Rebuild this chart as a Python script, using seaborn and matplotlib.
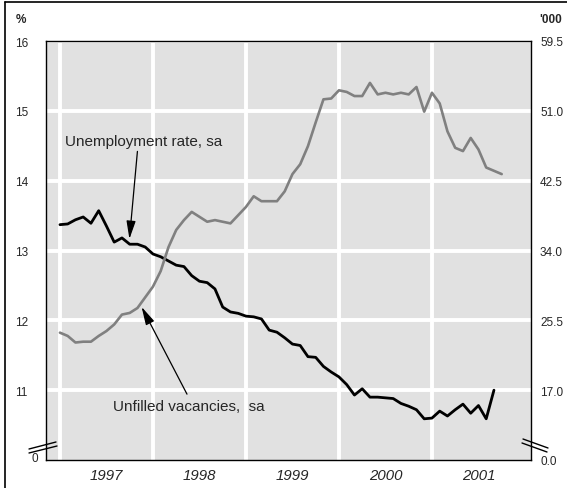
import numpy as np
import pandas as pd
import matplotlib
matplotlib.use('Agg')
import matplotlib.pyplot as plt
import seaborn as sns
from matplotlib.lines import Line2D

# Monthly data, Jan 1997 onwards
unemployment = [13.37, 13.38, 13.44, 13.48, 13.39, 13.57, 13.35, 13.12, 13.18, 13.09,
                13.09, 13.05, 12.95, 12.91, 12.85, 12.79, 12.77, 12.64, 12.56, 12.54,
                12.45, 12.19, 12.12, 12.10, 12.06, 12.05, 12.02, 11.86, 11.83, 11.75,
                11.66, 11.64, 11.48, 11.47, 11.34, 11.26, 11.19, 11.08, 10.93, 11.02,
                10.90, 10.90, 10.89, 10.88, 10.81, 10.77, 10.72, 10.59, 10.60, 10.70,
                10.63, 10.72, 10.80, 10.67, 10.78, 10.59, 11.00]  # %
vacancies = [24.0, 23.6, 22.8, 22.9, 22.9, 23.6, 24.2, 25.0, 26.2, 26.4,
             27.0, 28.3, 29.6, 31.5, 34.4, 36.5, 37.7, 38.7, 38.1, 37.5,
             37.7, 37.5, 37.3, 38.3, 39.3, 40.6, 40.0, 40.0, 40.0, 41.2,
             43.3, 44.5, 46.7, 49.6, 52.4, 52.5, 53.5, 53.3, 52.8, 52.8,
             54.4, 53.0, 53.2, 53.0, 53.2, 53.0, 53.9, 50.9, 53.2, 51.9,
             48.5, 46.5, 46.1, 47.7, 46.3, 44.1, 43.7, 43.3]  # '000

years = [1997, 1998, 1999, 2000, 2001]
left_ticks = [11, 12, 13, 14, 15, 16]
right_ticks = [8.5, 17.0, 25.5, 34.0, 42.5, 51.0, 59.5]
right_labels = ['0.0', '17.0', '25.5', '34.0', '42.5', '51.0', '59.5']


def decimal_year(n):
    d = pd.date_range('1997-01-01', periods=n, freq='MS')
    return d.year + (d.month - 1) / 12


sns.set_style('white')
plt.rcParams['font.family'] = ['Liberation Sans', 'DejaVu Sans']

W, H = 567, 489
fig = plt.figure(figsize=(W / 100, H / 100), dpi=100)
ax = fig.add_axes([46 / W, 28 / H, 485 / W, 419 / H])
ax.set_facecolor('#e1e1e1')

sns.lineplot(x=decimal_year(len(unemployment)), y=unemployment, ax=ax,
             color='black', lw=2.0)
ax2 = ax.twinx()
sns.lineplot(x=decimal_year(len(vacancies)), y=vacancies, ax=ax2,
             color='#808080', lw=1.9)

ax.set_xlim(1996.85, 2002.065)
ax.set_ylim(10, 16)
ax2.set_ylim(8.5, 59.5)

# gridlines at year boundaries, labels mid-year
ax.set_xticks(years)
ax.set_xticklabels([])
ax.set_xticks([y + 0.5 for y in years], minor=True)
ax.set_xticklabels([str(y) for y in years], minor=True, fontsize=10.8, style='italic')
ax.set_yticks(left_ticks)
ax.set_yticklabels([str(v) for v in left_ticks], fontsize=8.5, ha='left')
ax.grid(True, which='major', color='white', lw=2.8)
ax.set_axisbelow(True)
ax.tick_params(axis='x', which='both', length=0, pad=6)
ax.tick_params(axis='y', length=0, pad=22.5)

ax2.set_yticks(right_ticks)
ax2.set_yticklabels(right_labels, fontsize=8.5, ha='left')
ax2.tick_params(axis='y', length=0, pad=6.5)
ax2.grid(False)
for a in (ax, ax2):
    a.set_xlabel('')
    a.set_ylabel('')
for s in ax.spines.values():
    s.set_color('black')
    s.set_linewidth(1.0)
for s in ax2.spines.values():
    s.set_visible(False)

# annotations
ax.text(1997.054, 14.575, 'Unemployment rate, sa', fontsize=11, va='center')
ax.annotate('', xy=(1997.747, 13.165), xytext=(1997.833, 14.419),
            arrowprops=dict(arrowstyle='-|>,head_length=1.1,head_width=0.28',
                            color='black', lw=0.9, shrinkA=0, shrinkB=0,
                            mutation_scale=10))
ax.text(1997.570, 10.772, 'Unfilled vacancies,  sa', fontsize=11, va='center')
ax.annotate('', xy=(1997.878, 12.192), xytext=(1998.366, 10.943),
            arrowprops=dict(arrowstyle='-|>,head_length=1.1,head_width=0.28',
                            color='black', lw=0.9, shrinkA=0, shrinkB=0,
                            mutation_scale=10))

# unit labels and broken-axis zero label
fig.text(21 / W, 1 - 20 / H, '%', fontsize=8.5, fontweight='bold', ha='center', va='center')
fig.text(551 / W, 1 - 20 / H, "'000", fontsize=8.5, fontweight='bold', ha='center', va='center')
fig.text(34.5 / W, 1 - 459.5 / H, '0', fontsize=8.5, ha='center', va='center')


def px_line(x0, y0, x1, y1, lw=1.0):
    fig.add_artist(Line2D([x0 / W, x1 / W], [1 - y0 / H, 1 - y1 / H],
                          transform=fig.transFigure, color='black', lw=lw))


# axis break marks
px_line(29, 450, 56, 443)
px_line(29, 454, 57, 447)
px_line(523, 440, 548, 449)
px_line(522, 444, 547, 453)

# outer frame (top and left edges)
px_line(5, 3, W, 3, lw=1.2)
px_line(5, 3, 5, H, lw=1.2)

fig.savefig('out.png', dpi=100)
